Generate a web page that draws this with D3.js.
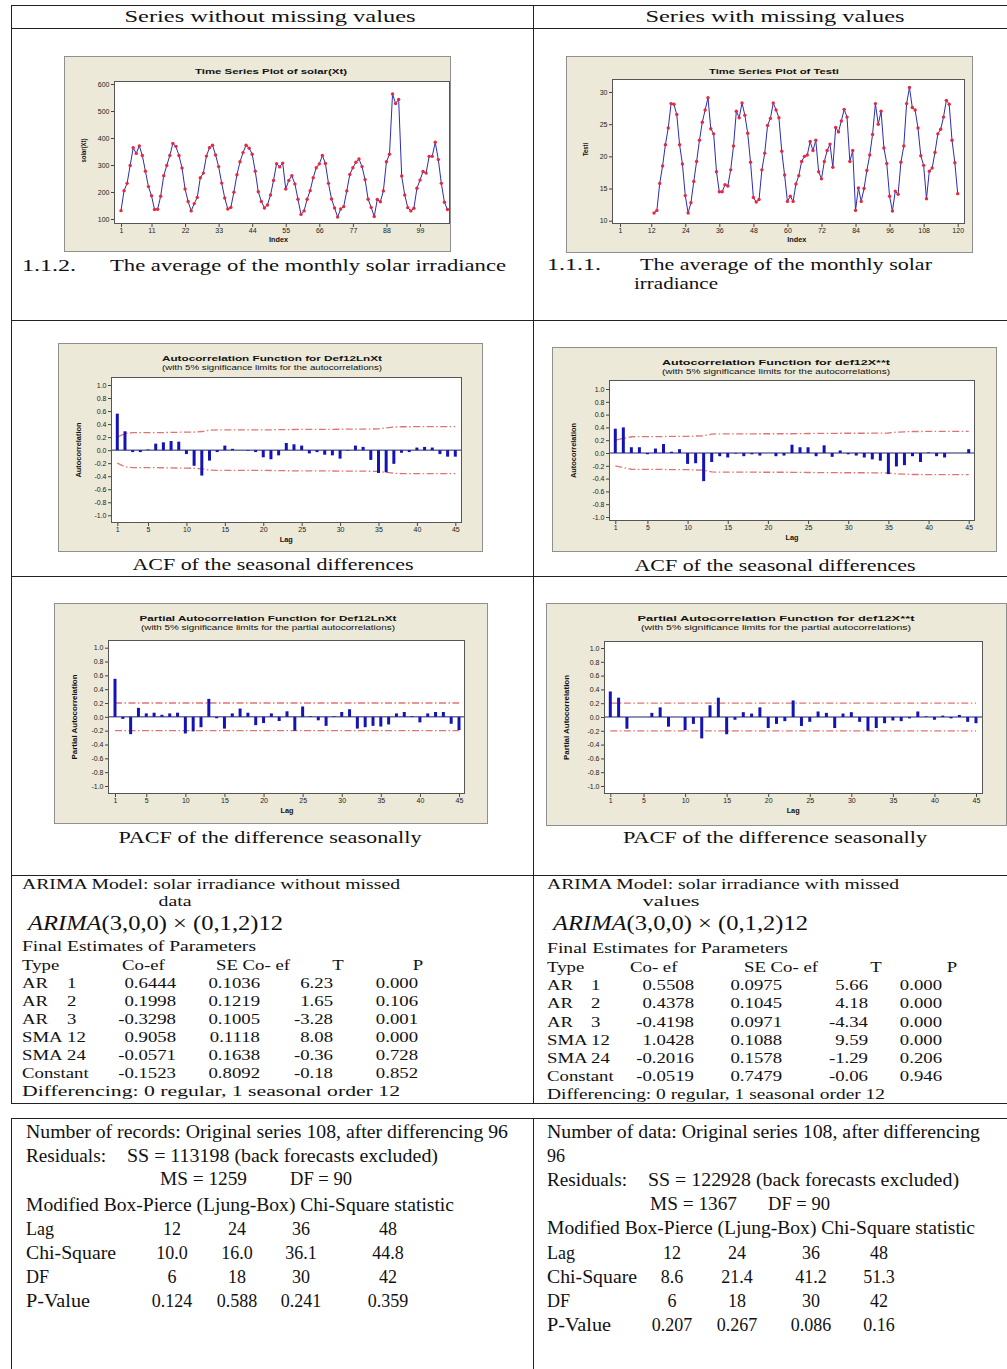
<!DOCTYPE html>
<html>
<head>
<meta charset="utf-8">
<script src="https://cdn.jsdelivr.net/npm/d3@7"></script>
<style>
  body { margin: 0; background: #fff; }
  svg { display: block; }
</style>
</head>
<body>
<div id="page"></div>
<script>
/* ARIMA comparison sheet: series with / without missing values */

// ---- data ----
const solarXt = [131,205,232,298,364,343,371,335,277,220,
  186,135,136,184,260,298,335,380,369,335,
  289,211,165,130,157,180,253,270,333,364,
  373,337,294,233,178,137,143,199,264,312,
  346,373,362,340,277,201,165,141,152,189,
  243,305,293,307,211,243,260,230,173,117,
  130,173,205,253,290,304,335,306,232,174,
  141,107,137,146,204,265,290,310,322,294,
  246,173,143,109,172,164,204,312,340,563,
  528,543,259,189,142,130,140,214,244,276,
  270,332,332,384,320,232,162,135];
const testiStart = 13; // first plotted index of Testi
const testi = [11.2,11.6,15.8,18.5,21.8,24.4,28.2,28.1,26.5,21.8,
  18.8,13.9,11.2,12.8,16.1,19.2,22.5,25.3,27.2,29.1,
  24.3,23.5,17.6,14.5,14.5,15.6,15.4,17.9,21.6,27.0,
  26.0,28.3,26.4,23.6,19.1,13.6,12.9,13.3,17.9,20.5,
  24.8,25.9,28.3,27.2,26.0,20.8,17.1,13.0,13.8,13.0,
  15.7,17.0,19.2,20.0,20.2,22.3,20.9,22.5,17.6,16.5,
  19.2,20.9,21.9,18.3,24.5,23.8,25.5,27.3,26.1,19.2,
  20.9,11.6,15.1,13.0,15.0,17.8,20.2,23.4,28.2,25.0,
  27.0,21.3,18.9,13.8,11.5,14.6,14.1,19.1,21.6,28.2,
  30.7,27.6,27.2,24.4,20.1,18.6,13.4,17.7,18.2,20.6,
  23.5,24.2,26.1,28.7,28.1,22.5,19.0,14.2];

const acfLeft = [0.56,0.29,-0.03,-0.03,0.01,0.10,0.12,0.14,0.13,-0.06,
  -0.24,-0.39,-0.16,-0.03,0.07,0.02,0.00,-0.01,-0.03,-0.11,
  -0.14,-0.08,0.11,0.09,0.07,-0.05,-0.03,-0.07,-0.08,-0.13,
  -0.01,0.07,0.05,-0.15,-0.35,-0.34,-0.21,-0.04,-0.03,0.04,
  0.05,0.04,-0.06,-0.10,-0.10];
const acfRight = [0.38,0.40,0.09,0.09,-0.02,0.07,0.14,0.02,0.06,-0.17,
  -0.16,-0.44,-0.14,-0.05,-0.07,-0.01,-0.05,-0.02,-0.04,0.00,
  -0.05,-0.04,0.13,0.09,0.09,-0.05,0.12,-0.06,0.04,-0.02,
  -0.04,-0.07,-0.10,-0.12,-0.33,-0.21,-0.19,-0.05,-0.14,0.01,
  -0.05,-0.07,0.00,0.00,0.06];
const pacfLeft = [0.55,-0.03,-0.25,0.13,0.05,0.06,0.03,0.05,0.06,-0.24,
  -0.21,-0.15,0.26,-0.02,-0.17,0.05,0.12,0.06,-0.12,-0.09,
  0.05,-0.06,0.08,-0.20,0.15,0.01,-0.05,-0.13,0.01,0.07,
  0.11,-0.17,-0.15,-0.13,-0.14,-0.11,0.05,0.07,0.01,-0.08,
  0.05,0.07,0.07,-0.10,-0.19];
const pacfRight = [0.37,0.28,-0.17,0.00,0.00,0.06,0.14,-0.14,0.00,-0.19,
  -0.10,-0.31,0.17,0.28,-0.25,-0.04,0.07,0.05,0.14,-0.16,
  -0.10,-0.06,0.24,-0.13,-0.07,0.08,0.06,-0.16,0.05,0.07,
  -0.07,-0.20,-0.16,-0.09,-0.05,-0.06,-0.02,0.08,0.01,-0.04,
  0.02,-0.02,0.03,-0.07,-0.09];
const nDiff = 96; // observations after seasonal differencing

const solarTicksX = [1,11,22,33,44,55,66,77,88,99];
const solarTicksY = [100,200,300,400,500,600];
const testiTicksX = [1,12,24,36,48,60,72,84,96,108,120];
const testiTicksY = [10,15,20,25,30];
const lagTicks = [1,5,10,15,20,25,30,35,40,45];
const corrTicks = [-1.0,-0.8,-0.6,-0.4,-0.2,0.0,0.2,0.4,0.6,0.8,1.0];

const paramNames = ["AR","AR","AR","SMA","SMA","Constant"];
const paramOrders = ["1","2","3","12","24",""];
const coefL = ["0.6444","0.1998","-0.3298","0.9058","-0.0571","-0.1523"];
const seL = ["0.1036","0.1219","0.1005","0.1118","0.1638","0.8092"];
const tL = ["6.23","1.65","-3.28","8.08","-0.36","-0.18"];
const pL = ["0.000","0.106","0.001","0.000","0.728","0.852"];
const coefR = ["0.5508","0.4378","-0.4198","1.0428","-0.2016","-0.0519"];
const seR = ["0.0975","0.1045","0.0971","0.1088","0.1578","0.7479"];
const tR = ["5.66","4.18","-4.34","9.59","-1.29","-0.06"];
const pR = ["0.000","0.000","0.000","0.000","0.206","0.946"];

const residSS = [113198, 122928];
const residMS = [1259, 1367];
const residDF = [90, 90];
const lbLags = [12, 24, 36, 48];
const chiL = ["10.0","16.0","36.1","44.8"];
const chiR = ["8.6","21.4","41.2","51.3"];
const lbDF = [6, 18, 30, 42];
const pvalL = ["0.124","0.588","0.241","0.359"];
const pvalR = ["0.207","0.267","0.086","0.16"];

// ---- page ----
const width = 1007, height = 1369;
const svg = d3.select("#page").append("svg")
  .attr("width", width).attr("height", height);

const SERIF = "Liberation Serif", SANS = "Liberation Sans";

// text helper: y is the visual middle of the line
function put(parent, s, x, y, o = {}) {
  const size = o.size || 15;
  const t = parent.append("text")
    .attr("x", x).attr("y", y + size * 0.35)
    .attr("font-family", o.font || SERIF)
    .attr("font-size", size)
    .attr("text-anchor", o.anchor || "start")
    .attr("fill", o.fill || "#111")
    .text(s);
  if (o.bold) t.attr("font-weight", "bold");
  if (o.italic) t.attr("font-style", "italic");
  if (o.w) t.attr("textLength", o.w).attr("lengthAdjust", "spacingAndGlyphs");
  else if (o.k) t.attr("textLength", t.node().getComputedTextLength() * o.k).attr("lengthAdjust", "spacingAndGlyphs");
  return t;
}

function vlabel(parent, s, x, y, size, w) {
  parent.append("text")
    .attr("transform", `translate(${x},${y}) rotate(-90)`)
    .attr("dy", "0.35em")
    .attr("text-anchor", "middle")
    .attr("font-family", SANS).attr("font-weight", "bold")
    .attr("font-size", size).attr("fill", "#111")
    .attr("textLength", w).attr("lengthAdjust", "spacingAndGlyphs")
    .text(s);
}

function styleAxis(a) {
  a.attr("font-family", SANS).attr("font-size", 7);
  a.select(".domain").remove();
  a.selectAll(".tick line").attr("stroke", "#444");
  a.selectAll(".tick text").attr("fill", "#222");
}

// minitab-like frame: beige box + white plot area
function frame(box, plot) {
  const g = svg.append("g");
  g.append("rect")
    .attr("x", box[0] + 0.5).attr("y", box[1] + 0.5)
    .attr("width", box[2]).attr("height", box[3])
    .attr("fill", "#ece9d8").attr("stroke", "#8f8f8f");
  g.append("rect")
    .attr("x", plot[0]).attr("y", plot[1])
    .attr("width", plot[2] - plot[0]).attr("height", plot[3] - plot[1])
    .attr("fill", "#fff");
  return g;
}
function plotBorder(g, plot) {
  g.append("rect")
    .attr("x", plot[0] + 0.5).attr("y", plot[1] + 0.5)
    .attr("width", plot[2] - plot[0] - 1).attr("height", plot[3] - plot[1] - 1)
    .attr("fill", "none").attr("stroke", "#555").attr("stroke-width", 1);
}

function axes(g, x, y, plot, xt, yt, yfmt) {
  g.append("g").attr("transform", `translate(0,${plot[3]})`)
    .call(d3.axisBottom(x).tickValues(xt).tickSize(3).tickPadding(1.5))
    .call(styleAxis);
  g.append("g").attr("transform", `translate(${plot[0]},0)`)
    .call(d3.axisLeft(y).tickValues(yt).tickFormat(yfmt).tickSize(3).tickPadding(1.5))
    .call(styleAxis);
}

// ---- time series panels ----
function tsPanel(c) {
  const g = frame(c.box, c.plot);
  const x = d3.scaleLinear().domain(c.xd).range(c.xr);
  const y = d3.scaleLinear().domain(c.yd).range(c.yr);
  const pts = c.values.map((v, i) => [c.start + i, v]);

  g.append("path")
    .datum(pts)
    .attr("fill", "none").attr("stroke", "#2c2cb4").attr("stroke-width", 1)
    .attr("d", d3.line().x(d => x(d[0])).y(d => y(d[1])));
  g.selectAll("circle.pt").data(pts).join("circle")
    .attr("class", "pt")
    .attr("cx", d => x(d[0])).attr("cy", d => y(d[1])).attr("r", 1.7)
    .attr("fill", "#e8283c");

  plotBorder(g, c.plot);
  axes(g, x, y, c.plot, c.xt, c.yt, d => d);
  put(g, c.title, c.titleX, c.box[1] + 15, { font: SANS, bold: true, size: 7.5, anchor: "middle", w: c.titleW });
  put(g, "Index", (c.xr[0] + c.xr[1]) / 2 + 8, c.plot[3] + 16, { font: SANS, bold: true, size: 6.5, anchor: "middle", w: 19 });
  vlabel(g, c.ylab, c.ylabX, (c.plot[1] + c.plot[3]) / 2 - 2, 6.5, c.ylabW);
}

tsPanel({
  box: [64, 56, 386, 195], plot: [114, 81, 450, 224],
  xd: [1, 99], xr: [121, 420], yd: [100, 600], yr: [219, 84],
  values: solarXt, start: 1, xt: solarTicksX, yt: solarTicksY,
  title: "Time Series Plot of solar(Xt)", titleX: 271, titleW: 152,
  ylab: "solar(Xt)", ylabX: 84, ylabW: 24
});
tsPanel({
  box: [566, 56, 406, 196], plot: [612, 79, 965, 224],
  xd: [1, 120], xr: [620, 957.7], yd: [10, 30], yr: [220.7, 92],
  values: testi, start: testiStart, xt: testiTicksX, yt: testiTicksY,
  title: "Time Series Plot of Testi", titleX: 774, titleW: 130,
  ylab: "Testi", ylabX: 586, ylabW: 13
});

// ---- ACF / PACF panels ----
function bartlett(r, n) {
  const z = 1.96 / Math.sqrt(n);
  let s = 0;
  return r.map(v => { const lim = z * Math.sqrt(1 + 2 * s); s += v * v; return lim; });
}

function corrPanel(c) {
  const g = frame(c.box, c.plot);
  const x = d3.scaleLinear().domain([1, 45]).range(c.xr);
  const y = d3.scaleLinear().domain([-1, 1]).range(c.yr);
  const lags = c.values.map((v, i) => ({ lag: i + 1, v, lim: c.limits[i] }));

  // significance limits
  const sig = d3.line().x(d => x(d.lag));
  [1, -1].forEach(sgn => {
    g.append("path")
      .datum(lags)
      .attr("fill", "none").attr("stroke", "#e07474").attr("stroke-width", 1.3)
      .attr("stroke-dasharray", "7,2.5,1.5,2.5")
      .attr("d", sig.y(d => y(sgn * d.lim)));
  });

  g.append("line")
    .attr("x1", c.plot[0]).attr("x2", c.plot[2])
    .attr("y1", y(0)).attr("y2", y(0))
    .attr("stroke", "#23236e").attr("stroke-width", 1);

  g.selectAll("line.bar").data(lags).join("line")
    .attr("class", "bar")
    .attr("x1", d => x(d.lag)).attr("x2", d => x(d.lag))
    .attr("y1", y(0)).attr("y2", d => y(d.v))
    .attr("stroke", "#1414b4").attr("stroke-width", 3);

  plotBorder(g, c.plot);
  axes(g, x, y, c.plot, lagTicks, corrTicks, d => d.toFixed(1));
  put(g, c.title, c.titleX, c.box[1] + 15, { font: SANS, bold: true, size: 8, anchor: "middle", w: c.titleW });
  put(g, c.sub, c.titleX, c.box[1] + 24.5, { font: SANS, size: 6.5, anchor: "middle", w: c.subW });
  put(g, "Lag", (c.xr[0] + c.xr[1]) / 2, c.plot[3] + 17, { font: SANS, bold: true, size: 7, anchor: "middle", w: 13 });
  vlabel(g, c.ylab, c.ylabX, (c.plot[1] + c.plot[3]) / 2, 7, c.ylabW);
}

const pacfLimit = 1.96 / Math.sqrt(nDiff);

corrPanel({
  box: [58, 343, 424, 208], plot: [111, 377, 462, 523],
  xr: [117.3, 455.3], yr: [515.3, 385],
  values: acfLeft, limits: bartlett(acfLeft, nDiff),
  title: "Autocorrelation Function for Def12LnXt", titleX: 272, titleW: 220,
  sub: "(with 5% significance limits for the autocorrelations)", subW: 220,
  ylab: "Autocorrelation", ylabX: 79, ylabW: 55
});
corrPanel({
  box: [552, 347, 444, 204], plot: [609, 380, 975, 521],
  xr: [615.3, 968.7], yr: [517, 389],
  values: acfRight, limits: bartlett(acfRight, nDiff),
  title: "Autocorrelation Function for def12X**t", titleX: 776, titleW: 228,
  sub: "(with 5% significance limits for the autocorrelations)", subW: 228,
  ylab: "Autocorrelation", ylabX: 574, ylabW: 55
});
corrPanel({
  box: [54, 603, 433, 220], plot: [108, 640, 465, 794],
  xr: [115, 459], yr: [786, 647.7],
  values: pacfLeft, limits: pacfLeft.map(() => pacfLimit),
  title: "Partial Autocorrelation Function for Def12LnXt", titleX: 268, titleW: 257,
  sub: "(with 5% significance limits for the partial autocorrelations)", subW: 254,
  ylab: "Partial Autocorrelation", ylabX: 75, ylabW: 85
});
corrPanel({
  box: [546, 603, 460, 222], plot: [604, 641, 983, 794],
  xr: [610.3, 976], yr: [786, 648],
  values: pacfRight, limits: pacfRight.map(() => pacfLimit),
  title: "Partial Autocorrelation Function for def12X**t", titleX: 776, titleW: 277,
  sub: "(with 5% significance limits for the partial autocorrelations)", subW: 270,
  ylab: "Partial Autocorrelation", ylabX: 567, ylabW: 85
});

// ---- table rules ----
const rules = svg.append("g").attr("stroke", "#222").attr("stroke-width", 1);
[5, 28, 320, 576, 875, 1103].forEach(yy => {
  rules.append("line").attr("x1", 11).attr("x2", width).attr("y1", yy + 0.5).attr("y2", yy + 0.5);
});
rules.append("line").attr("x1", 11.5).attr("x2", 11.5).attr("y1", 5).attr("y2", 1103);
rules.append("line").attr("x1", 533.5).attr("x2", 533.5).attr("y1", 5).attr("y2", 1103);
rules.append("line").attr("x1", 11).attr("x2", width).attr("y1", 1118.5).attr("y2", 1118.5);
rules.append("line").attr("x1", 11.5).attr("x2", 11.5).attr("y1", 1118).attr("y2", height);
rules.append("line").attr("x1", 533.5).attr("x2", 533.5).attr("y1", 1118).attr("y2", height);

// ---- headers and captions ----
const cap = svg.append("g");
put(cap, "Series without missing values", 270, 16, { size: 16, anchor: "middle", w: 291 });
put(cap, "Series with missing values", 775, 16, { size: 16, anchor: "middle", w: 259 });
put(cap, "1.1.2.", 22, 265, { size: 16, w: 54 });
put(cap, "The average of the monthly solar irradiance", 110, 265, { size: 16, w: 396 });
put(cap, "1.1.1.", 547, 264, { size: 16, w: 54 });
put(cap, "The average of the monthly solar", 640, 264, { size: 16, w: 292 });
put(cap, "irradiance", 634, 283, { size: 16, w: 84 });
put(cap, "ACF of the seasonal differences", 273, 564, { size: 16, anchor: "middle", w: 281 });
put(cap, "ACF of the seasonal differences", 775, 565, { size: 16, anchor: "middle", w: 281 });
put(cap, "PACF of the difference seasonally", 270, 837, { size: 16, anchor: "middle", w: 303 });
put(cap, "PACF of the difference seasonally", 775, 837, { size: 16, anchor: "middle", w: 304 });

// ---- ARIMA estimates ----
function formula(parent, x, y) {
  const t = parent.append("text")
    .attr("x", x).attr("y", y + 7)
    .attr("font-family", SERIF).attr("font-size", 20).attr("fill", "#111")
    .attr("textLength", 255).attr("lengthAdjust", "spacingAndGlyphs");
  t.append("tspan").attr("font-style", "italic").text("ARIMA");
  t.append("tspan").text("(3,0,0) \u00d7 (0,1,2)12");
}

function arimaBlock(c) {
  const g = svg.append("g");
  put(g, c.head, c.x, 884, { size: 15, w: c.headW });
  put(g, c.head2, c.head2X, 901, { size: 15, anchor: "middle", w: c.head2W });
  formula(g, c.x + 6, 923);
  put(g, c.fin, c.x, c.finY, { size: 15, w: c.finW });
  put(g, "Type", c.x, c.hdrY, { size: 15, k: 1.25 });
  c.hdr.forEach(h => put(g, h.s, h.x, c.hdrY, { size: 15, anchor: h.a || "start", k: 1.25 }));

  const rows = paramNames.map((n, i) => ({ n, o: paramOrders[i], y: c.rowY[i], vals: c.cols.map(col => col.v[i]) }));
  const row = g.selectAll("g.row").data(rows).join("g").attr("class", "row");
  row.each(function (d) {
    const r = d3.select(this);
    put(r, d.n, c.x, d.y, { size: 15, k: 1.25 });
    if (d.o) put(r, d.o, c.orderX, d.y, { size: 15, k: 1.25 });
    d.vals.forEach((v, j) => put(r, v, c.cols[j].x, d.y, { size: 15, anchor: "end", k: 1.25 }));
  });
  put(g, "Differencing: 0 regular, 1 seasonal order 12", c.x, c.diffY, { size: 15, w: c.diffW });
}

arimaBlock({
  x: 22, head: "ARIMA Model: solar irradiance without missed", headW: 378,
  head2: "data", head2X: 175, head2W: 33,
  fin: "Final Estimates of Parameters", finY: 946, finW: 234,
  hdrY: 965,
  hdr: [{ s: "Co-ef", x: 122 }, { s: "SE Co- ef", x: 216 }, { s: "T", x: 338, a: "middle" }, { s: "P", x: 418, a: "middle" }],
  orderX: 67,
  rowY: [983, 1001, 1019, 1037, 1055, 1073],
  cols: [{ v: coefL, x: 176 }, { v: seL, x: 260 }, { v: tL, x: 333 }, { v: pL, x: 418 }],
  diffY: 1091, diffW: 378
});
arimaBlock({
  x: 547, head: "ARIMA Model: solar irradiance with missed", headW: 352,
  head2: "values", head2X: 671, head2W: 57,
  fin: "Final Estimates for Parameters", finY: 948, finW: 241,
  hdrY: 967,
  hdr: [{ s: "Co- ef", x: 630 }, { s: "SE Co- ef", x: 744 }, { s: "T", x: 876, a: "middle" }, { s: "P", x: 952, a: "middle" }],
  orderX: 591,
  rowY: [985, 1003, 1022, 1040, 1058, 1076],
  cols: [{ v: coefR, x: 694 }, { v: seR, x: 782 }, { v: tR, x: 868 }, { v: pR, x: 942 }],
  diffY: 1094, diffW: 338
});

// ---- residual / Ljung-Box block ----
function lbBlock(c, k) {
  const g = svg.append("g");
  const S = 18;
  c.lines.forEach(l => put(g, l.s, l.x, l.y, { size: S, w: l.w }));
  put(g, "Residuals:", c.x, c.resY, { size: S, w: 80 });
  put(g, `SS =  ${residSS[k]} (back forecasts excluded)`, c.ssX, c.resY, { size: S, w: 311 });
  put(g, `MS =  ${residMS[k]}`, c.msX, c.msY, { size: S, w: 87 });
  put(g, `DF = ${residDF[k]}`, c.dfX, c.msY, { size: S, w: 62 });
  put(g, "Modified Box-Pierce (Ljung-Box) Chi-Square statistic", c.x, c.modY, { size: S, w: 428 });

  const table = [
    { lab: "Lag", vals: lbLags },
    { lab: "Chi-Square", vals: c.chi },
    { lab: "DF", vals: lbDF },
    { lab: "P-Value", vals: c.pval }
  ];
  table.forEach((r, i) => {
    const yy = c.tabY + i * 24;
    put(g, r.lab, c.x, yy, { size: S, w: r.lab === "Chi-Square" ? 90 : (r.lab === "P-Value" ? 64 : null) });
    r.vals.forEach((v, j) => put(g, String(v), c.colX[j], yy, { size: S, anchor: "middle" }));
  });
}

lbBlock({
  x: 26,
  lines: [{ s: "Number of records:  Original series 108, after differencing 96", x: 26, y: 1132, w: 482 }],
  resY: 1156, ssX: 127, msY: 1179, msX: 160, dfX: 290, modY: 1205, tabY: 1229,
  chi: chiL, pval: pvalL, colX: [172, 237, 301, 388]
}, 0);
lbBlock({
  x: 547,
  lines: [
    { s: "Number of data:  Original series 108, after differencing", x: 547, y: 1132, w: 433 },
    { s: "96", x: 547, y: 1156 }
  ],
  resY: 1180, ssX: 648, msY: 1204, msX: 650, dfX: 768, modY: 1228, tabY: 1253,
  chi: chiR, pval: pvalR, colX: [672, 737, 811, 879]
}, 1);
</script>
</body>
</html>
